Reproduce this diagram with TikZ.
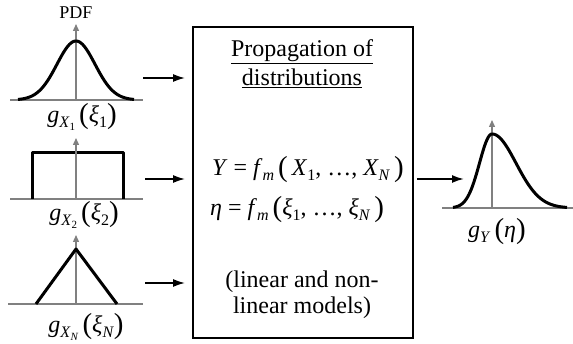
\documentclass[tikz,border=0pt]{standalone}
\usepackage{fontspec}
\setmainfont{Liberation Serif}
\usetikzlibrary{arrows.meta}
\newcommand{\lsub}[1]{\raisebox{-0.45ex}{\fontsize{16}{16}\selectfont #1}}
\newcommand{\lsubsub}[1]{\raisebox{-0.4ex}{\fontsize{11}{11}\selectfont #1}}
\newcommand{\bpl}{\raisebox{-0.12ex}{\fontsize{29}{29}\selectfont(}}
\newcommand{\bpr}{\raisebox{-0.12ex}{\fontsize{29}{29}\selectfont)}}
\begin{document}
\begin{tikzpicture}[x=1pt,y=-1pt,
  axis/.style={draw=gray, line width=1.3pt, -{Triangle[length=7pt,width=6pt]}},
  baseln/.style={draw=gray, line width=2.5pt},
  curve/.style={line width=3pt, line join=round},
  flow/.style={line width=1.8pt, -{Latex[length=12pt,width=8pt]}},
  lbl/.style={font=\fontsize{24}{26}\selectfont, inner sep=0pt},
  frame/.style={draw, line width=1.8pt, minimum width=220pt, minimum height=311pt, inner sep=0pt}]
\useasboundingbox (0,0) rectangle (573,344);
% panel 1: normal
\draw[baseln] (10,100) -- (143,100);
\draw[axis] (76,100) -- (76,24);
\draw[curve] plot[domain=18:134, samples=80, smooth] (\x, {100-59*exp(-0.5*((\x-76)/19)*((\x-76)/19))});
\node[lbl, font=\fontsize{18}{18}\selectfont] (pdf) at (76,13) {PDF};
\node[lbl] (l1) at (82,117) {\textit{g}\lsub{\textit{X}\lsubsub{1}}\,\bpl\textit{ξ}\lsub{1}\bpr};
% panel 2: uniform
\draw[baseln] (10,199) -- (143,199);
\draw[curve] (32,199) -- (32,153) -- (123,153) -- (123,199);
\draw[axis] (76,199) -- (76,138);
\node[lbl] (l2) at (84,215) {\textit{g}\lsub{\textit{X}\lsubsub{2}}\,\bpl\textit{ξ}\lsub{2}\bpr};
% panel 3: triangular
\draw[baseln] (8,304) -- (143,304);
\draw[axis] (76,304) -- (76,235);
\draw[curve] (36,304) -- (76,249) -- (117,304);
\node[lbl] (l3) at (86,327) {\textit{g}\lsub{\textit{X}\lsubsub{\textit{N}}}\,\bpl\textit{ξ}\lsub{\textit{N}}\bpr};
% central box
\node[frame] (box) at (303,182.5) {};
\node[lbl] (t1) at (302,52) {\underline{Propagation of}};
\node[lbl] (t2) at (302,78) {\underline{distributions}};
\node[lbl, anchor=west] (e1) at (212,170) {\textit{Y} = \textit{f}\lsub{\textit{m}}\,\bpl\,\textit{X}\lsub{1}, …, \textit{X}\lsub{\textit{N}}\,\bpr};
\node[lbl, anchor=west] (e2) at (210,210) {\textit{η} = \textit{f}\lsub{\textit{m}}\,\bpl\textit{ξ}\lsub{1}, …, \textit{ξ}\lsub{\textit{N}}\,\bpr};
\node[lbl] (t3) at (302,282) {(linear and non-};
\node[lbl] (t4) at (302,308) {linear models)};
% output
\draw[baseln] (442,208) -- (573,208);
\draw[axis] (492,208) -- (492,120);
\draw[curve] plot[domain=453:492, samples=40, smooth] (\x, {208-74*exp(-0.5*((\x-492)/12.5)*((\x-492)/12.5))})
  -- plot[domain=492:567, samples=60, smooth] (\x, {208-74*exp(-0.5*((\x-492)/24)*((\x-492)/24))});
\node[lbl] (lY) at (497,232) {\textit{g}\lsub{\textit{Y}}\,\bpl\textit{η}\bpr};
% connectors
\coordinate (i1) at (143,78);
\coordinate (i2) at (145,179);
\coordinate (i3) at (145,283);
\coordinate (o1) at (464,179);
\draw[flow, shorten >=7pt] (i1) -- (i1 -| box.west);
\draw[flow, shorten >=7pt] (i2) -- (i2 -| box.west);
\draw[flow, shorten >=7pt] (i3) -- (i3 -| box.west);
\draw[flow, shorten <=3pt] (box.east |- o1) -- (o1);
\end{tikzpicture}
\end{document}
